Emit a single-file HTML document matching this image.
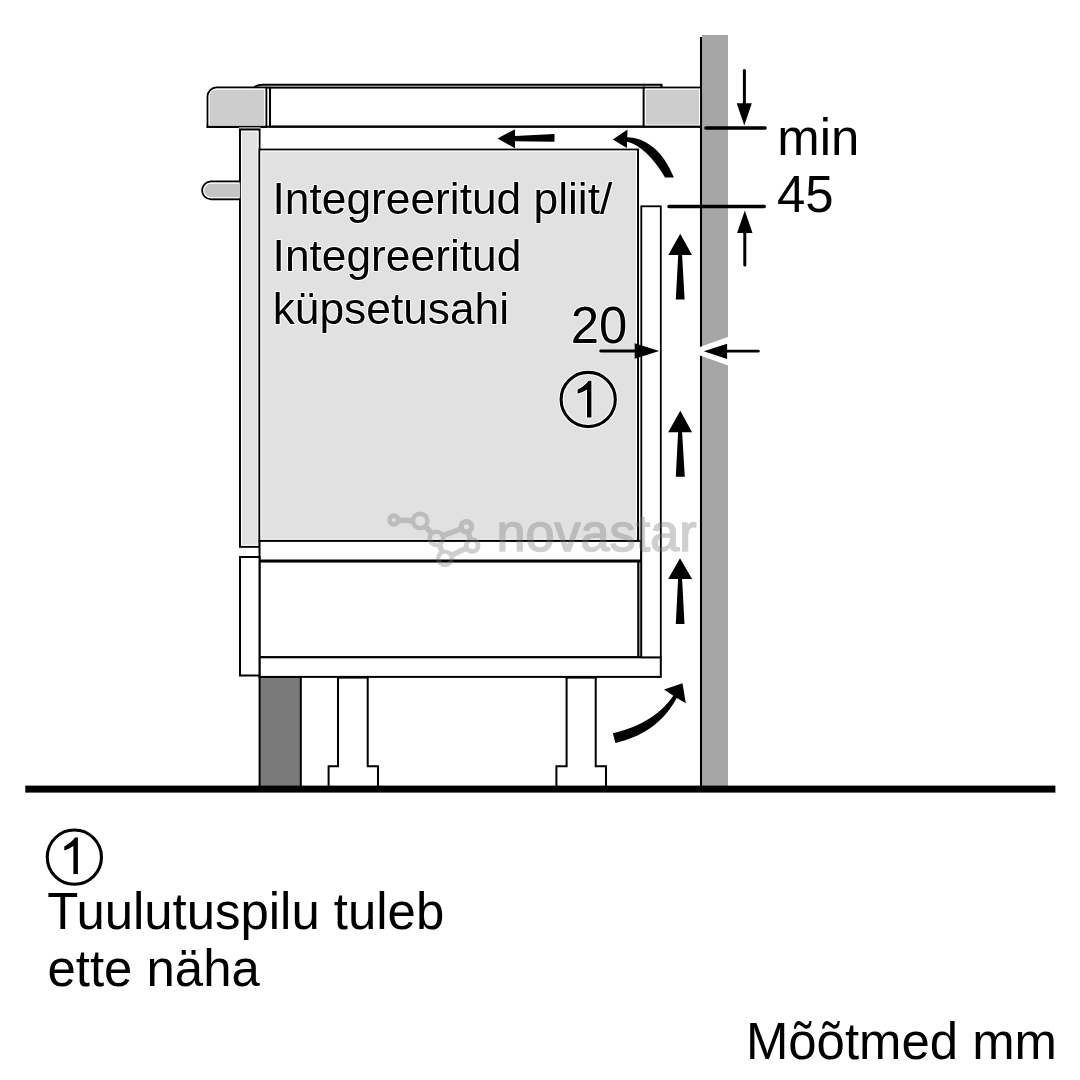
<!DOCTYPE html>
<html><head><meta charset="utf-8">
<style>
html,body{margin:0;padding:0;background:#fff;width:1080px;height:1080px;overflow:hidden}
svg{display:block}
text{font-family:"Liberation Sans",sans-serif;fill:#000}
.halo text{stroke:#fff;stroke-width:2;paint-order:stroke;stroke-linejoin:round}
.gs{opacity:0.999}
</style></head>
<body>
<svg width="1080" height="1080" viewBox="0 0 1080 1080">
<rect x="0" y="0" width="1080" height="1080" fill="#fff"/>

<!-- wall -->
<rect x="702" y="35" width="26" height="752" fill="#a6a6a6"/>
<line x1="701" y1="37" x2="701" y2="787" stroke="#000" stroke-width="2.1"/>

<g stroke="#000" stroke-width="2" stroke-linejoin="miter">
  <!-- left worktop -->
  <path d="M207.6,127 L207.6,96.6 A9,9 0 0 1 216.6,87.6 L266.3,87.6 L266.3,127 Z" fill="#cdcdcd"/>
  <path d="M209.1,125.5 L209.1,96.6 A7.5,7.5 0 0 1 216.6,89.1 L264.8,89.1 L264.8,125.5 Z" stroke="#fff" stroke-width="1.1" fill="none"/>
  <!-- hob body -->
  <rect x="270" y="87.6" width="373.8" height="39" fill="#fff"/>
  <line x1="266.3" y1="87.6" x2="270" y2="87.6"/>
  <!-- right worktop -->
  <rect x="643.8" y="87.6" width="57.2" height="39" fill="#cdcdcd"/>
  <rect x="645.3" y="89.1" width="54.2" height="36" stroke="#fff" stroke-width="1.1" fill="none"/>
  <!-- bottom line of worktop -->
  <line x1="206.6" y1="126.8" x2="701" y2="126.8"/>
  <!-- hob glass -->
  <path d="M254,87.8 Q256,84.7 263,84.7 L661.5,84.7 L661.5,87.8" fill="none" stroke-width="2"/>

  <rect x="239" y="127" width="21.5" height="2.4" fill="#999" stroke="none"/>
  <!-- side panel upper -->
  <rect x="240" y="129.7" width="19.5" height="417.1" fill="#e1e1e1"/>
  <rect x="241.5" y="131.2" width="16.5" height="414.1" stroke="#fff" stroke-width="1.1" fill="none"/>
  <!-- knob -->
  <path d="M240.2,181.6 L211,181.6 A8.8,8.8 0 0 0 211,199.2 L240.2,199.2" fill="#c5c5c5"/>
  <path d="M239,183.1 L211,183.1 A7.3,7.3 0 0 0 211,197.7 L239,197.7" stroke="#fff" stroke-width="1.1" fill="none"/>
  <!-- oven -->
  <rect x="259.5" y="149.6" width="378.5" height="391.3" fill="#e1e1e1"/>
  <rect x="261" y="151.1" width="375.5" height="388.3" stroke="#fff" stroke-width="1.1" fill="none"/>
  <!-- oven bottom frame -->
  <rect x="259.5" y="540.9" width="381.7" height="20.2" fill="#fff"/>
  <!-- drawer area -->
  <rect x="259.5" y="561.1" width="378.8" height="96.1" fill="#fff"/>
  <rect x="638.3" y="561.1" width="3.2" height="96.1" fill="#8a8a8a" stroke-width="1.2"/>
  <line x1="259.5" y1="561.1" x2="641.2" y2="561.1" stroke-width="3"/>
  <!-- bottom panel -->
  <rect x="259.5" y="657.3" width="401.3" height="19.6" fill="#fff"/>
  <!-- front panel -->
  <rect x="641.3" y="206.3" width="19.5" height="451" fill="#fff" stroke-width="1.8"/>
  <!-- side panel lower -->
  <rect x="240" y="557" width="19.5" height="118.5" fill="#fff"/>
  <!-- plinth -->
  <rect x="259.6" y="677" width="41.2" height="110" fill="#7a7a7a"/>
  <!-- legs -->
  <path d="M338,677 L338,766.2 L328.6,766.2 L328.6,787 L378,787 L378,766.2 L367.7,766.2 L367.7,677" fill="#fff"/>
  <path d="M566.6,677 L566.6,766.2 L556.4,766.2 L556.4,787 L606,787 L606,766.2 L595.7,766.2 L595.7,677" fill="#fff"/>
</g>
<line x1="337" y1="677.3" x2="368.7" y2="677.3" stroke="#000" stroke-width="2.6"/>
<line x1="565.6" y1="677.3" x2="596.7" y2="677.3" stroke="#000" stroke-width="2.6"/>

<!-- floor -->
<rect x="25.3" y="785.6" width="1030.1" height="7" fill="#000"/>

<!-- dimension lines min 45 -->
<g stroke="#000" stroke-linecap="round" fill="none">
  <line x1="706" y1="128" x2="765" y2="128" stroke-width="3.6"/>
  <line x1="669" y1="206.5" x2="764.3" y2="206.5" stroke-width="3.4"/>
  <line x1="744.4" y1="70.5" x2="744.4" y2="104" stroke-width="3"/>
  <line x1="744.8" y1="232" x2="744.8" y2="265" stroke-width="3"/>
  <line x1="600.7" y1="351" x2="636" y2="351" stroke-width="2.8"/>
</g>
<g fill="#000">
  <polygon points="736.7,103.3 751.8,103.3 744.3,125.4"/>
  <polygon points="737.1,233 752.5,233 744.8,210.5"/>
  <polygon points="634.7,343.3 634.7,358.8 659.2,351"/>
</g>
<!-- wall break -->
<polygon points="688,351.2 729,336.5 729,365.8" fill="#fff"/>
<polygon points="703.8,351.2 727.1,343.7 727.1,359" fill="#000"/>
<line x1="726" y1="351.2" x2="758.3" y2="351.2" stroke="#000" stroke-width="2.8" stroke-linecap="round"/>

<!-- air arrows straight up -->
<g fill="#000">
  <path d="M680.2,233.7 L692,255 L682.1,255 L684.6,299.4 L675.8,299.4 L678.2,255 L668.3,255 Z"/>
  <path d="M680.3,410.8 L692,432.3 L682.1,432.3 L684.8,476.8 L675.8,476.8 L678.1,432.3 L668.2,432.3 Z"/>
  <path d="M680,558.3 L692.1,579.1 L682.1,579.1 L684.5,623.9 L675.8,623.9 L678.1,579.1 L668.2,579.1 Z"/>
  <!-- left arrow under worktop -->
  <path d="M497.5,138.5 L515,129.2 L515,136 L554.5,134 L554.5,141.8 L515,141.3 L515,148.2 Z"/>
  <!-- curved top arrow -->
  <path d="M612.8,139.4 L627.6,129.4 L627.2,137.2 C645,137.5 663,150 673.9,177.6 L665,177.6 C654,158 640,144.5 627,141.7 L626.9,148 Z"/>
  <!-- curved bottom arrow -->
  <path d="M682.5,683.2 L685.8,703.3 L676.7,697.9 C662,725 640,737 615.4,742.9 L612.9,733.3 C635,728 658,718 673.3,695.8 L664,689.6 Z"/>
</g>

<!-- circle 1 in oven -->
<circle cx="588.2" cy="399.5" r="27.1" fill="none" stroke="#fff" stroke-width="5.1"/>
<circle cx="588.2" cy="399.5" r="27.1" fill="none" stroke="#000" stroke-width="3.1"/>
<path d="M588.6,380.8 L591.4,380.8 L591.4,417.4 L587,417.4 L587,389.4 Q582.5,392.2 577.6,393.8 L577.6,389.6 Q585,386 588.6,380.8 Z" fill="#000" stroke="#fff" stroke-width="2" paint-order="stroke" stroke-linejoin="round"/>

<!-- legend circle 1 -->
<circle cx="74.35" cy="857.15" r="27.1" fill="none" stroke="#000" stroke-width="3.1"/>
<path d="M75,837.6 L77.9,837.6 L77.9,874 L73.4,874 L73.4,846 Q69,849 64.3,850.6 L64.3,846.4 Q71.5,842.6 75,837.6 Z" fill="#000"/>

<!-- texts -->
<g font-size="44.3" class="halo gs">
  <text x="272.5" y="213.5">Integreeritud pliit/</text>
  <text x="272.6" y="270.9">Integreeritud</text>
  <text x="272.7" y="323.7">küpsetusahi</text>
  <text x="570.8" y="343.4" font-size="50.9">20</text>
</g>
<g font-size="50.9" class="gs">
  <text x="777.3" y="154.6">min</text>
  <text x="776.9" y="211.9">45</text>
  <text x="47.2" y="929.4">Tuulutuspilu tuleb</text>
  <text x="47.5" y="985.8">ette näha</text>
  <text x="745.9" y="1059">Mõõtmed mm</text>
</g>

<!-- watermark -->
<defs><mask id="wm" maskUnits="userSpaceOnUse" x="0" y="0" width="1080" height="1080"><rect x="0" y="0" width="1080" height="1080" fill="#fff"/><circle cx="393.9" cy="520" r="2.0" fill="#000"/><circle cx="420.2" cy="520.9" r="5.0" fill="#000"/><circle cx="436.4" cy="538.3" r="4.5" fill="#000"/><circle cx="466.4" cy="526.7" r="2.5" fill="#000"/><circle cx="472.2" cy="545.6" r="3.5" fill="#000"/><circle cx="445" cy="558.3" r="4.5" fill="#000"/></mask></defs>
<g opacity="0.35" fill="#787878" stroke="#787878">
  <g mask="url(#wm)">
  <g stroke-width="5.5" fill="none">
    <line x1="393.9" y1="520" x2="420.2" y2="520.9"/>
    <line x1="420.2" y1="520.9" x2="436.4" y2="538.3"/>
    <line x1="436.4" y1="538.3" x2="466.4" y2="526.7"/>
    <line x1="466.4" y1="526.7" x2="472.2" y2="545.6"/>
    <line x1="436.4" y1="538.3" x2="445" y2="558.3"/>
    <line x1="445" y1="558.3" x2="472.2" y2="545.6"/>
  </g>
  <g stroke="none"><circle cx="393.9" cy="520" r="6.7"/><circle cx="420.2" cy="520.9" r="9.4"/><circle cx="436.4" cy="538.3" r="8.9"/><circle cx="466.4" cy="526.7" r="7.8"/><circle cx="472.2" cy="545.6" r="8.3"/><circle cx="445" cy="558.3" r="8.9"/></g>
  </g>
  <text x="496.5" y="551.3" font-size="51" style="fill:#787878;stroke:#787878;stroke-width:1.5;stroke-linejoin:round" textLength="200" lengthAdjust="spacingAndGlyphs">novastar</text>
</g>
</svg>
</body></html>
